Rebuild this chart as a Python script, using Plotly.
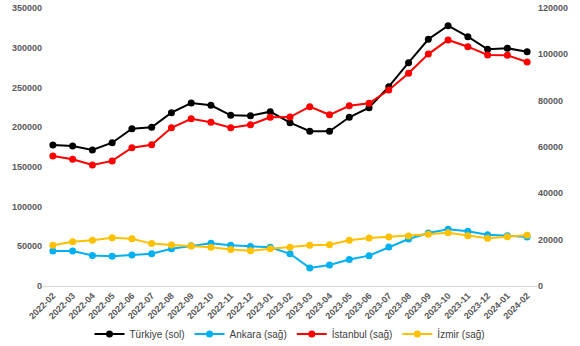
import plotly.graph_objects as go

months = ["2022-02","2022-03","2022-04","2022-05","2022-06","2022-07","2022-08","2022-09",
          "2022-10","2022-11","2022-12","2023-01","2023-02","2023-03","2023-04","2023-05",
          "2023-06","2023-07","2023-08","2023-09","2023-10","2023-11","2023-12","2024-01","2024-02"]

turkiye = [177500,176300,171200,180400,198000,199800,218200,230400,227500,214900,214400,219500,
           205600,194800,194800,212400,224500,250900,281100,310600,327700,313900,298000,299300,295000]
ankara = [15100,15100,13200,12800,13400,13900,16100,17400,18400,17600,17100,16700,
          13900,7800,9100,11400,13100,16800,20300,22900,24500,23600,22100,21700,21200]
istanbul = [56100,54700,52200,54000,59700,61000,68300,72200,70700,68300,69600,72800,
            72900,77400,73900,77800,78900,84600,91800,100100,106200,103300,99700,99600,96700]
izmir = [17600,19100,19700,20800,20400,18300,17700,17300,16700,15800,15200,16100,
         16700,17600,17800,19700,20700,21200,21600,22300,23000,21700,20600,21300,21900]

series = [
    ("Türkiye (sol)", turkiye, "#000000", "y"),
    ("Ankara (sağ)", ankara, "#00B0F0", "y2"),
    ("İstanbul (sağ)", istanbul, "#FF0000", "y2"),
    ("İzmir (sağ)", izmir, "#FFC000", "y2"),
]

fig = go.Figure()
for name, vals, col, ax in series:
    fig.add_trace(go.Scatter(
        x=months, y=vals, name=name, yaxis=ax, mode="lines+markers",
        line=dict(color=col, width=2), marker=dict(color=col, size=7),
    ))

tf = dict(family="Liberation Sans", size=9, color="#595959", weight="bold")
fig.update_layout(
    width=580, height=346,
    margin=dict(l=43, r=43, t=8, b=60, autoexpand=False),
    paper_bgcolor="white", plot_bgcolor="white",
    font=dict(family="Liberation Sans", size=10, color="#404040"),
    showlegend=True,
    legend=dict(orientation="h", x=0.5, xanchor="center", xref="container",
                y=0.035, yanchor="middle", yref="container",
                font=dict(size=10, color="#404040"), itemwidth=30, tracegroupgap=0),
    xaxis=dict(type="category", range=[-0.5, 24.5], tickangle=-45, tickfont=tf,
               showgrid=False, showline=True, linecolor="#D9D9D9", linewidth=1,
               ticks="", zeroline=False),
    yaxis=dict(range=[0, 350000], dtick=50000, showgrid=False, zeroline=False,
               tickfont=tf, tickformat="d", ticks="", showline=False),
    yaxis2=dict(range=[0, 120000], dtick=20000, overlaying="y", side="right",
                showgrid=False, zeroline=False,
                tickfont=tf, tickformat="d", ticks="", showline=False),
)

fig.write_html("out.html")
